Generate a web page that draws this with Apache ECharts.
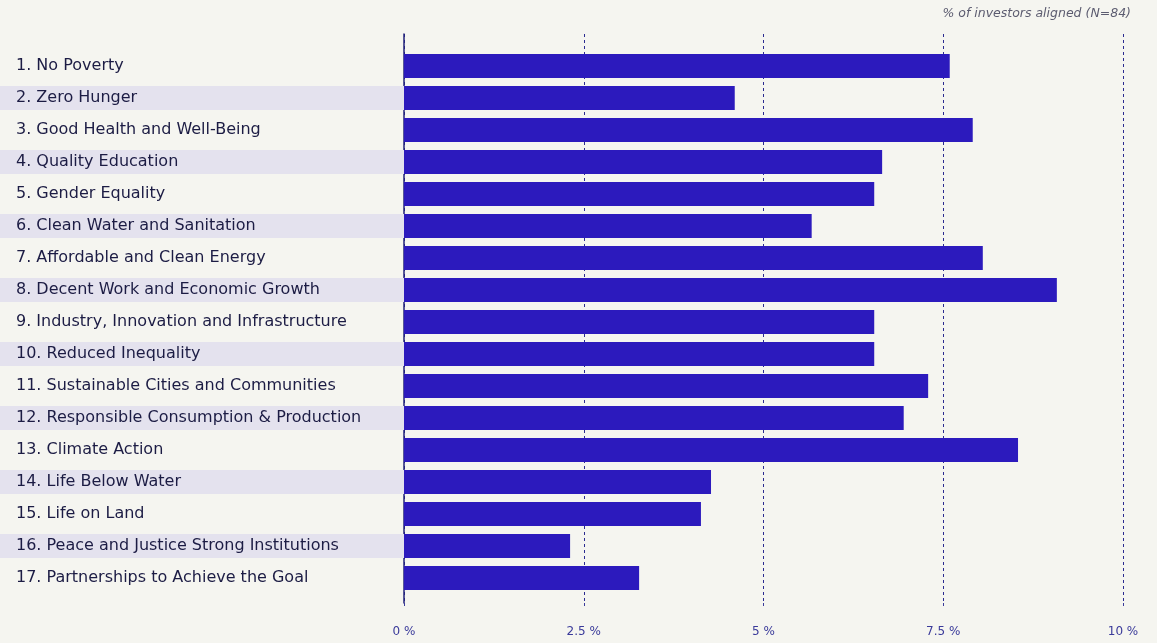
<!DOCTYPE html>
<html>
<head>
<meta charset="utf-8">
<script src="https://cdn.jsdelivr.net/npm/echarts@6/dist/echarts.min.js"></script>
<style>
  html, body { margin: 0; padding: 0; background: #f5f5f0; }
  #chart { width: 1157px; height: 643px; }
</style>
</head>
<body>
<div id="chart"></div>
<script>
  // SDG categories
  var goals = [
    '1. No Poverty',
    '2. Zero Hunger',
    '3. Good Health and Well-Being',
    '4. Quality Education',
    '5. Gender Equality',
    '6. Clean Water and Sanitation',
    '7. Affordable and Clean Energy',
    '8. Decent Work and Economic Growth',
    '9. Industry, Innovation and Infrastructure',
    '10. Reduced Inequality',
    '11. Sustainable Cities and Communities',
    '12. Responsible Consumption & Production',
    '13. Climate Action',
    '14. Life Below Water',
    '15. Life on Land',
    '16. Peace and Justice Strong Institutions',
    '17. Partnerships to Achieve the Goal'
  ]
  // % of investors aligned
  var shares = [7.59, 4.6, 7.91, 6.65, 6.54, 5.67, 8.05, 9.08, 6.54, 6.54, 7.29, 6.95, 8.54, 4.27, 4.13, 2.31, 3.27]
  var ticks = [0, 2.5, 5, 7.5, 10]

  var font = '"DejaVu Sans", "Noto Sans", sans-serif'
  var myChart = echarts.init(document.getElementById('chart'))

  var option = {
    backgroundColor: '#f5f5f0',
    title: {
      text: '% of investors aligned (N=84)',
      right: 21,
      top: 2,
      textStyle: {
        fontFamily: font,
        fontSize: 12.5,
        fontStyle: 'italic',
        fontWeight: 'normal',
        color: '#5c5c70'
      }
    },
    grid: [
      // bars + labels
      {left: 404, right: 34, top: 50, height: 544, outerBoundsMode: 'none'},
      // gridlines + axis ticks
      {left: 404, right: 34, top: 34, bottom: 40, outerBoundsMode: 'none'}
    ],
    xAxis: [
      {
        gridIndex: 0, type: 'value', min: 0, max: 10, show: false
      },
      {
        gridIndex: 1, type: 'value', min: ticks[0], max: ticks[ticks.length - 1], interval: 2.5,
        axisLine: {show: false},
        axisTick: {show: true, length: 3, lineStyle: {color: '#3a3a9a'}},
        splitLine: {show: true, lineStyle: {color: '#2a2a90', type: [3, 3], width: 1}},
        axisLabel: {
          margin: 23,
          fontFamily: font,
          fontSize: 12,
          color: '#3a3a9a',
          formatter: function (v) { return v + ' %' }
        }
      }
    ],
    yAxis: [
      {
        gridIndex: 0, type: 'category', inverse: true, data: goals,
        axisLine: {show: false},
        axisTick: {show: false},
        axisLabel: {
          align: 'left',
          margin: 404,
          formatter: function (v, i) {
            return (i % 2 === 1 ? '{b|' : '{a|') + v + '}'
          },
          rich: {
            a: {
              fontFamily: font, fontSize: 16, color: '#1c1c44',
              width: 388, height: 24, lineHeight: 24, padding: [0, 0, 0, 16]
            },
            b: {
              fontFamily: font, fontSize: 16, color: '#1c1c44',
              width: 388, height: 24, lineHeight: 24, padding: [0, 0, 0, 16],
              backgroundColor: '#e4e2ee'
            }
          }
        }
      },
      {
        gridIndex: 1, type: 'value', min: 0, max: 1,
        axisLine: {show: true, lineStyle: {color: '#22227a', width: 1.5}},
        axisTick: {show: false},
        axisLabel: {show: false},
        splitLine: {show: false}
      }
    ],
    series: [
      {
        type: 'bar',
        xAxisIndex: 0,
        yAxisIndex: 0,
        data: shares,
        barWidth: 24,
        itemStyle: {color: '#2c1abd'},
        silent: true
      }
    ]
  }

  myChart.setOption(option)
</script>
</body>
</html>
